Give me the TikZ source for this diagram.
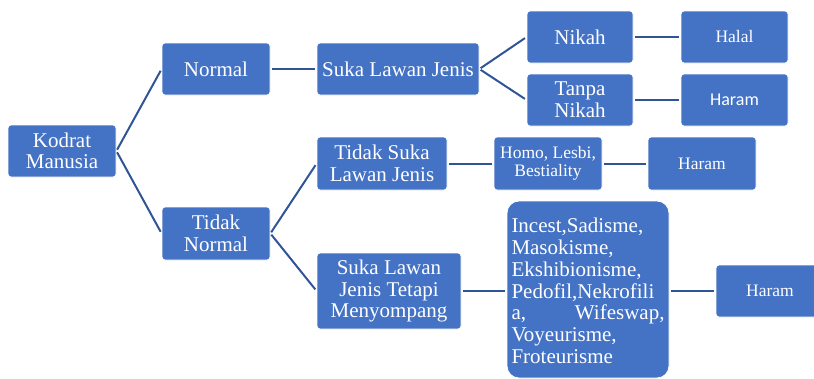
\documentclass[tikz,border=0pt]{standalone}
\usepackage{fontspec}
\setmainfont{Liberation Serif}
\newfontfamily\calfont{Carlito}
\definecolor{boxblue}{HTML}{4472C4}
\definecolor{lineblue}{HTML}{2F5597}
\tikzset{
  box/.style={rectangle, rounded corners=3pt, fill=boxblue, draw=white, line width=0.8pt,
    text=white, inner sep=0pt, align=center, minimum width=108pt, minimum height=52pt,
    font=\fontsize{21}{21.5}\selectfont},
  smalltxt/.style={font=\fontsize{17.5}{18}\selectfont},
  conn/.style={draw=lineblue, line width=2pt, shorten <=1.5pt, shorten >=2pt}
}
\begin{document}
\begin{tikzpicture}[x=1pt,y=-1pt]
\useasboundingbox (0,0) rectangle (814,378);
\node[box] (kodrat) at (62,151) {Kodrat\\Manusia};
\node[box] (normal) at (216,69) {Normal};
\node[box, minimum height=53pt] (tidak) at (216,233.5) {Tidak\\Normal};
\node[box, minimum width=162pt] (suka) at (398,69) {Suka Lawan Jenis};
\node[box, minimum width=130pt, minimum height=53pt] (tsuka) at (382,163.5) {Tidak Suka\\Lawan Jenis};
\node[box, minimum width=144pt, minimum height=76pt] (meny) at (389,291) {Suka Lawan\\Jenis Tetapi\\Menyompang};
\node[box, minimum width=106pt] (nikah) at (580,37) {Nikah};
\node[box, minimum width=106pt, font=\fontsize{21}{22}\selectfont] (tanpa) at (580,100) {Tanpa\\Nikah};
\node[box, minimum width=107pt, smalltxt] (halal) at (734.5,37) {Halal};
\node[box, minimum width=107pt, font=\calfont\fontsize{18}{18}\selectfont] (haram1) at (734.5,100) {Haram};
\node[box, minimum height=53pt, smalltxt] (homo) at (548,163.5) {Homo, Lesbi,\\Bestiality};
\node[box, minimum height=53pt, smalltxt] (haram2) at (702,163.5) {Haram};
\node[box, rounded corners=12pt, minimum width=162pt, minimum height=177pt] (incest) at (588,289.5)
  {\parbox{153pt}{\fontsize{21}{21.8}\selectfont\raggedright
   \vspace*{3pt}Incest,Sadisme,\\Masokisme,\\Ekshibionisme,\\Pedofil,Nekrofili\\\mbox{a,}\hfill Wifeswap,\\Voyeurisme,\\Froteurisme}};
\node[box, smalltxt] (haram3) at (770,291) {Haram};
\draw[conn] (kodrat.east) -- (normal.west);
\draw[conn] (kodrat.east) -- (tidak.west);
\draw[conn] (normal.east) -- (suka.west);
\draw[conn] (suka.east) -- (nikah.west);
\draw[conn] (suka.east) -- (tanpa.west);
\draw[conn] (nikah.east) -- (halal.west);
\draw[conn] (tanpa.east) -- (haram1.west);
\draw[conn] (tidak.east) -- (tsuka.west);
\draw[conn] (tidak.east) -- (meny.west);
\draw[conn] (tsuka.east) -- (homo.west);
\draw[conn] (homo.east) -- (haram2.west);
\draw[conn] (meny.east) -- (incest.west |- meny.east);
\draw[conn] (incest.east |- haram3.west) -- (haram3.west);
\end{tikzpicture}
\end{document}
